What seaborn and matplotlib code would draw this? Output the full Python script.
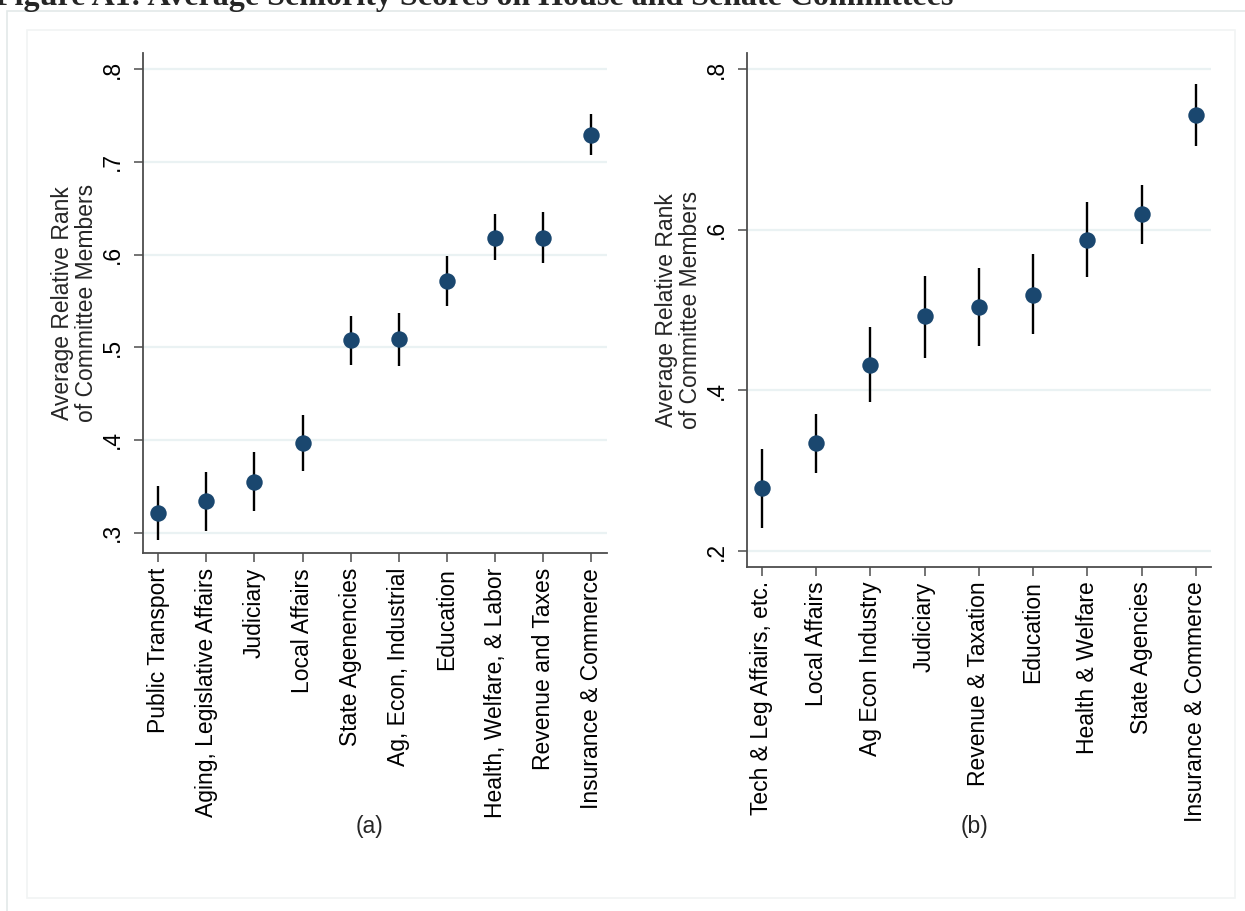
import matplotlib
matplotlib.use("Agg")
import matplotlib.pyplot as plt
import matplotlib.ticker as mtick
from matplotlib.patches import Rectangle
import pandas as pd
import seaborn as sns

sns.set_style('white')
plt.rcParams['font.family'] = ['Liberation Sans', 'DejaVu Sans']

# House committees (panel a)
house_labels = ["Public Transport", "Aging, Legislative Affairs", "Judiciary", "Local Affairs",
                "State Agenencies", "Ag, Econ, Industrial", "Education",
                "Health, Welfare, & Labor", "Revenue and Taxes", "Insurance & Commerce"]
house_mean = [0.321, 0.334, 0.355, 0.397, 0.508, 0.509, 0.571, 0.618, 0.618, 0.729]
house_lo = [0.292, 0.302, 0.323, 0.367, 0.481, 0.480, 0.544, 0.594, 0.591, 0.707]
house_hi = [0.350, 0.366, 0.387, 0.427, 0.534, 0.537, 0.598, 0.644, 0.646, 0.751]
house_ticks = [0.3, 0.4, 0.5, 0.6, 0.7, 0.8]

# Senate committees (panel b)
senate_labels = ["Tech & Leg Affairs, etc.", "Local Affairs", "Ag Econ Industry", "Judiciary",
                 "Revenue & Taxation", "Education", "Health & Welfare", "State Agencies",
                 "Insurance & Commerce"]
senate_mean = [0.278, 0.334, 0.432, 0.492, 0.504, 0.519, 0.587, 0.620, 0.743]
senate_lo = [0.229, 0.297, 0.385, 0.440, 0.455, 0.470, 0.541, 0.582, 0.704]
senate_hi = [0.327, 0.371, 0.479, 0.543, 0.552, 0.570, 0.634, 0.656, 0.782]
senate_ticks = [0.2, 0.4, 0.6, 0.8]

W, H = 1245, 911
fig = plt.figure(figsize=(W / 100, H / 100), dpi=100)
fig.set_facecolor('white')

# outer frame and graph region box
fig.add_artist(Rectangle((7.3 / W, -0.1), 1.2, (H - 10.7) / H + 0.1, transform=fig.transFigure,
                         fill=False, ec='#E3E9E9', lw=1.2))
fig.add_artist(Rectangle((26.7 / W, 1 - 897.7 / H), (1235 - 26.7) / W, (897.7 - 30) / H,
                         transform=fig.transFigure, fill=False, ec='#F1F4F4', lw=1.2))

fig.text(-0.004, 1 - 5 / H, "Figure A1: Average Seniority Scores on House and Senate Committees",
         family='Liberation Serif', weight='bold', fontsize=23, ha='left', va='baseline')

navy = '#1A476F'
axcol = '#4D4D4D'
fs = 16.5


def panel(rect, labels, mean, lo, hi, ticks, ylim, xpad):
    ax = fig.add_axes(rect)
    df = pd.DataFrame({'committee': labels, 'mean': mean, 'lo': lo, 'hi': hi})
    ax.vlines(range(len(df)), df['lo'], df['hi'], color='black', lw=1.7, zorder=2)
    sns.scatterplot(data=df, x='committee', y='mean', ax=ax, color=navy, s=140,
                    edgecolor=navy, linewidth=0, zorder=3)
    ax.set_xlim(-xpad, len(df) - 1 + xpad)
    ax.set_ylim(*ylim)
    ax.set_yticks(ticks)
    ax.yaxis.set_major_formatter(mtick.FuncFormatter(lambda v, p: f"{v:.1f}".lstrip('0')))
    ax.grid(axis='y', color='#EAF2F3', lw=1.6)
    ax.set_axisbelow(True)
    for s in ['top', 'right']:
        ax.spines[s].set_visible(False)
    for s in ['left', 'bottom']:
        ax.spines[s].set_color(axcol)
        ax.spines[s].set_linewidth(1.3)
    ax.tick_params(axis='both', colors=axcol, length=6.5, width=1.1, labelcolor='black',
                   labelsize=fs, left=True, bottom=True)
    ax.tick_params(axis='y', pad=7)
    ax.tick_params(axis='x', pad=4)
    for t in ax.get_yticklabels():
        t.set_rotation(90)
        t.set_va('center')
    for t in ax.get_xticklabels():
        t.set_rotation(90)
    ax.set_xlabel("")
    ax.set_ylabel("Average Relative Rank\nof Committee Members", fontsize=fs, labelpad=2,
                  linespacing=1.05)
    return ax


panel([142.7 / W, 1 - 553.3 / H, 464 / W, 500.3 / H], house_labels, house_mean, house_lo,
      house_hi, house_ticks, (0.2778, 0.8173), 0.32)
panel([746.7 / W, 1 - 566.7 / H, 464.3 / W, 513.7 / H], senate_labels, senate_mean, senate_lo,
      senate_hi, senate_ticks, (0.1805, 0.82), 0.28)

fig.text(370 / W, 1 - 826 / H, "(a)", fontsize=fs, ha='center', va='center')
fig.text(975 / W, 1 - 826 / H, "(b)", fontsize=fs, ha='center', va='center')

fig.savefig('out.png', dpi=100)
